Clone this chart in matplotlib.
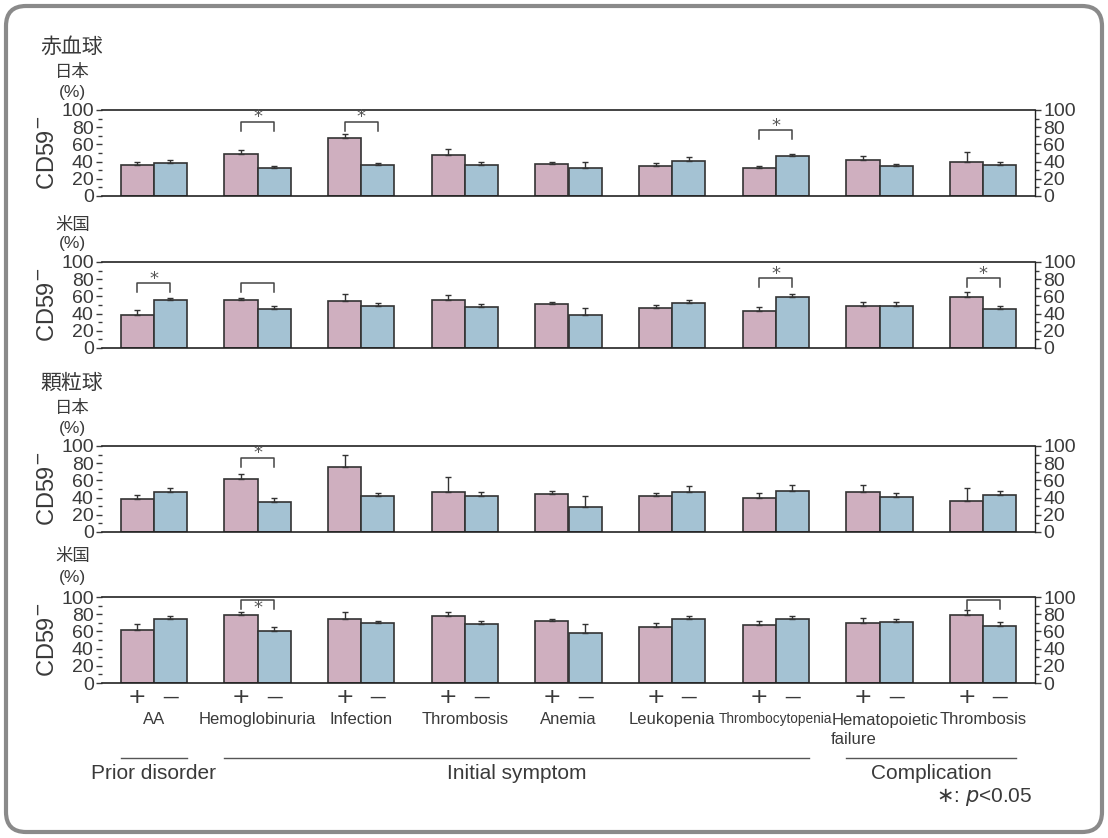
import matplotlib
matplotlib.use('Agg')
import matplotlib.pyplot as plt
import matplotlib.patches as mpatches
import matplotlib.transforms as mtrans
import numpy as np

# ---- data ----
groups = ['AA', 'Hemoglobinuria', 'Infection', 'Thrombosis', 'Anemia',
          'Leukopenia', 'Thrombocytopenia', 'Hematopoietic\nfailure', 'Thrombosis']
categories = ['Prior disorder', 'Initial symptom', 'Complication']
cat_span = [(0, 0), (1, 6), (7, 8)]

# red blood cells, Japan
rbc_jp_pos = [36, 49, 68, 48, 37, 35, 32.5, 42, 39]
rbc_jp_pos_err = [40, 53, 72.5, 55, 39.6, 38.5, 35, 46.7, 50.6]
rbc_jp_neg = [38.5, 32, 36, 36.5, 32, 41, 46, 34.5, 36.5]
rbc_jp_neg_err = [41.5, 34.5, 38.5, 39, 40, 45, 48.6, 37, 39]
# red blood cells, USA
rbc_us_pos = [38.6, 55.5, 55, 56.3, 51, 46.5, 43.3, 48.8, 59.4]
rbc_us_pos_err = [44.5, 58.7, 62.6, 62, 54, 50, 47.6, 54, 64.6]
rbc_us_neg = [55.5, 45, 48.4, 48, 38.6, 52.8, 59, 49.2, 45.7]
rbc_us_neg_err = [58, 49, 52.4, 51.6, 47, 56.3, 62.6, 53, 48.8]
# granulocytes, Japan
gran_jp_pos = [37.8, 61.4, 75.6, 46.9, 44, 41.3, 40, 46.5, 35.8]
gran_jp_pos_err = [43.3, 67, 90, 63.8, 47.6, 45.3, 45, 54.7, 50.8]
gran_jp_neg = [46.9, 35.4, 41.7, 42, 29, 46.5, 47.6, 41, 43]
gran_jp_neg_err = [51.2, 39.4, 45, 46.5, 42, 53.5, 54.7, 45, 47.2]
# granulocytes, USA
gran_us_pos = [62, 79.2, 75, 78.4, 71.8, 64.7, 67.5, 70.2, 78.8]
gran_us_pos_err = [69, 83, 82.7, 82.7, 75, 70, 72, 75.3, 84.7]
gran_us_neg = [74, 60, 69.4, 68.2, 58, 75, 75, 71, 66.7]
gran_us_neg_err = [77.6, 64.7, 72, 71.8, 68.2, 78.4, 78.4, 74.5, 71.4]

# significance brackets: (group, bracket level, leg bottom, star)
rbc_jp_sig = [(1, 86.5, 76, True), (2, 86.5, 76, True), (6, 76.5, 66.5, True)]
rbc_us_sig = [(0, 75, 65, True), (1, 75, 65, False), (6, 81.5, 71.5, True), (8, 81.5, 71.5, True)]
gran_jp_sig = [(1, 86.5, 76, True)]
gran_us_sig = [(1, 96, 86, 'in'), (8, 96, 86, False)]

panels = [
    (rbc_jp_pos, rbc_jp_pos_err, rbc_jp_neg, rbc_jp_neg_err, rbc_jp_sig),
    (rbc_us_pos, rbc_us_pos_err, rbc_us_neg, rbc_us_neg_err, rbc_us_sig),
    (gran_jp_pos, gran_jp_pos_err, gran_jp_neg, gran_jp_neg_err, gran_jp_sig),
    (gran_us_pos, gran_us_pos_err, gran_us_neg, gran_us_neg_err, gran_us_sig),
]

# ---- style ----
cjk = ['Noto Sans CJK JP', 'DejaVu Sans']
plt.rcParams['font.family'] = ['Liberation Sans', 'DejaVu Sans']

PINK = '#cfafbf'
BLUE = '#a4c2d3'
EDGE = '#333333'
TXT = '#3a3a3a'

W, H = 1108, 838
fig = plt.figure(figsize=(W / 100, H / 100), dpi=100)

def fx(px):
    return px / W

def fy(py):
    return 1 - py / H

# rounded frame
frame = mpatches.FancyBboxPatch((6, 6), W - 12, H - 12,
                                boxstyle='round,pad=0,rounding_size=20',
                                transform=mtrans.IdentityTransform(),
                                fc='none', ec='#8a8a8a', lw=3)
fig.patches.append(frame)

x = np.arange(len(groups))
bw = 0.32
tops = [110, 262, 446, 597]
axes = []
for k, (pos, pos_e, neg, neg_e, sig) in enumerate(panels):
    ax = fig.add_axes([fx(102), fy(tops[k] + 86), fx(933), 86 / H])
    axes.append(ax)
    pos = np.array(pos)
    neg = np.array(neg)
    ax.bar(x - bw / 2, pos, bw, color=PINK, edgecolor=EDGE, lw=1.2, zorder=2)
    ax.bar(x + bw / 2, neg, bw, color=BLUE, edgecolor=EDGE, lw=1.2, zorder=2)
    ax.errorbar(x - bw / 2, pos, yerr=[np.zeros_like(pos), np.array(pos_e) - pos],
                fmt='none', ecolor=EDGE, elinewidth=1, capsize=2.5, capthick=1, zorder=3)
    ax.errorbar(x + bw / 2, neg, yerr=[np.zeros_like(neg), np.array(neg_e) - neg],
                fmt='none', ecolor=EDGE, elinewidth=1, capsize=2.5, capthick=1, zorder=3)
    for g, lev, leg, star in sig:
        ax.plot([g - bw / 2, g - bw / 2, g + bw / 2, g + bw / 2], [leg, lev, lev, leg],
                color='#444444', lw=1.1, zorder=4)
        if star is True:
            ax.text(g, lev + 5, '*', ha='center', va='center', fontsize=13,
                    color='#555555', family='DejaVu Sans')
        elif star == 'in':
            ax.text(g, lev - 9, '*', ha='center', va='center', fontsize=13,
                    color='#555555', family='DejaVu Sans')
    ax.set_xlim(-0.5, len(groups) - 0.5)
    ax.set_ylim(0, 100)
    ax.set_yticks([0, 20, 40, 60, 80, 100])
    ax.set_yticks([10, 30, 50, 70, 90], minor=True)
    ax.tick_params(axis='y', which='both', left=True, right=True, labelleft=True,
                   labelright=True, labelsize=14, colors=TXT, pad=2)
    ax.tick_params(axis='y', which='major', length=4, width=1)
    ax.tick_params(axis='y', which='minor', length=3, width=1)
    ax.spines['left'].set_visible(False)
    ax.spines['right'].set_linewidth(1)
    ax.spines['top'].set_linewidth(1.2)
    ax.spines['bottom'].set_linewidth(1.2)
    for sp in ax.spines.values():
        sp.set_color('#222222')
    ax.set_xticks([])
    fig.text(fx(48), fy(tops[k] + 43), 'CD59$^{-}$', rotation=90, ha='center', va='center',
             fontsize=17, color=TXT)

# panel headings
fig.text(fx(40), fy(47), '赤血球', fontsize=15, va='center', color=TXT, family=cjk)
fig.text(fx(55), fy(72), '日本', fontsize=12.5, va='center', color=TXT, family=cjk)
fig.text(fx(59), fy(92), '(%)', fontsize=12.5, va='center', color=TXT)
fig.text(fx(55), fy(225), '米国', fontsize=12.5, va='center', color=TXT, family=cjk)
fig.text(fx(59), fy(243), '(%)', fontsize=12.5, va='center', color=TXT)
fig.text(fx(40), fy(383), '顆粒球', fontsize=15, va='center', color=TXT, family=cjk)
fig.text(fx(55), fy(408), '日本', fontsize=12.5, va='center', color=TXT, family=cjk)
fig.text(fx(59), fy(428), '(%)', fontsize=12.5, va='center', color=TXT)
fig.text(fx(55), fy(556), '米国', fontsize=12.5, va='center', color=TXT, family=cjk)
fig.text(fx(59), fy(577), '(%)', fontsize=12.5, va='center', color=TXT)

# x labels under bottom panel
ax = axes[-1]
tr = mtrans.blended_transform_factory(ax.transData, fig.transFigure)
for i, name in enumerate(groups):
    ax.text(i - bw / 2, fy(697), '+', transform=tr, ha='center', va='center',
            fontsize=16, color=TXT, family='DejaVu Sans')
    ax.text(i + bw / 2, fy(697), '\u2014', transform=tr, ha='center', va='center',
            fontsize=12, color=TXT, family='DejaVu Sans')
    if '\n' in name:
        ax.text(i + 0.05, fy(730), name, transform=tr, ha='center', va='center',
                fontsize=12, color=TXT, multialignment='left', linespacing=1.3)
    else:
        fs = 9.8 if name == 'Thrombocytopenia' else 12
        ax.text(i, fy(719), name, transform=tr, ha='center', va='center',
                fontsize=fs, color=TXT)

for (a, b), cat in zip(cat_span, categories):
    ax.plot([a - bw, b + bw], [fy(758), fy(758)], transform=tr, color='#555555',
            lw=1, clip_on=False)
    ax.text((a + b) / 2, fy(773), cat, transform=tr, ha='center', va='center',
            fontsize=15, color=TXT)

fig.text(fx(1032), fy(797), '$\\ast$: $\\mathit{p}$<0.05', ha='right', va='center',
         fontsize=15, color=TXT)

fig.savefig('out.png', dpi=100)
